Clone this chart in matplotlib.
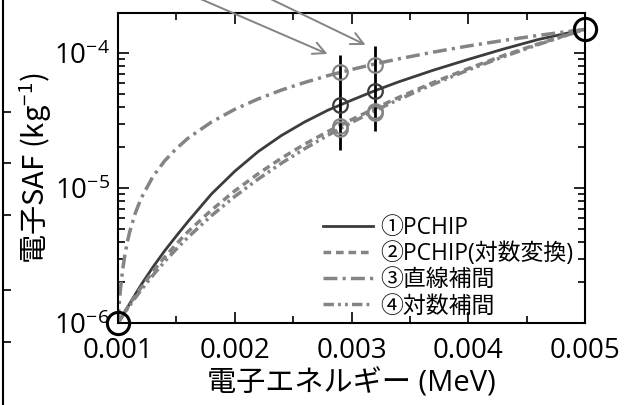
import matplotlib
matplotlib.use('Agg')
import matplotlib.pyplot as plt

plt.rcParams['font.family'] = ['Open Sans', 'Noto Sans CJK JP', 'DejaVu Sans']
plt.rcParams['mathtext.fontset'] = 'custom'
plt.rcParams['mathtext.rm'] = 'Noto Sans CJK JP'
plt.rcParams['mathtext.it'] = 'Noto Sans CJK JP'
plt.rcParams['axes.unicode_minus'] = False

# energies (MeV) and SAF values
energy = [0.001, 0.00101, 0.00102, 0.00104, 0.00106, 0.00108, 0.0011, 0.00115, 0.0012,
          0.0013, 0.0014, 0.0015, 0.0016, 0.0018, 0.002, 0.0022, 0.0024, 0.0026, 0.0028,
          0.003, 0.0032, 0.0034, 0.0037, 0.004, 0.0043, 0.0046, 0.005]
saf_pchip = [1.0e-6, 1.033e-6, 1.068e-6, 1.14e-6, 1.216e-6, 1.30e-6, 1.39e-6, 1.64e-6,
             1.93e-6, 2.6e-6, 3.43e-6, 4.42e-6, 5.65e-6, 9.02e-6, 1.33e-5, 1.86e-5,
             2.45e-5, 3.09e-5, 3.78e-5, 4.47e-5, 5.26e-5, 6.1e-5, 7.46e-5, 8.97e-5,
             1.07e-4, 1.26e-4, 1.5e-4]
saf_pchip_log = [1.0e-6, 1.03e-6, 1.069e-6, 1.141e-6, 1.217e-6, 1.296e-6, 1.379e-6,
                 1.599e-6, 1.843e-6, 2.41e-6, 3.079e-6, 3.852e-6, 4.752e-6, 6.856e-6,
                 9.518e-6, 1.275e-5, 1.664e-5, 2.115e-5, 2.627e-5, 3.211e-5, 3.888e-5,
                 4.672e-5, 6.05e-5, 7.674e-5, 9.566e-5, 1.169e-4, 1.5e-4]
saf_linear = [1.0e-6, 1.37e-6, 1.75e-6, 2.49e-6, 3.24e-6, 3.98e-6, 4.73e-6, 6.59e-6,
              8.45e-6, 1.22e-5, 1.59e-5, 1.96e-5, 2.34e-5, 3.08e-5, 3.83e-5, 4.57e-5,
              5.32e-5, 6.06e-5, 6.81e-5, 7.55e-5, 8.3e-5, 9.04e-5, 1.016e-4, 1.128e-4,
              1.239e-4, 1.351e-4, 1.5e-4]
saf_loglog = [1.0e-6, 1.032e-6, 1.064e-6, 1.13e-6, 1.199e-6, 1.271e-6, 1.345e-6, 1.545e-6,
              1.764e-6, 2.263e-6, 2.851e-6, 3.534e-6, 4.32e-6, 6.233e-6, 8.653e-6,
              1.164e-5, 1.527e-5, 1.958e-5, 2.467e-5, 3.058e-5, 3.738e-5, 4.514e-5,
              5.874e-5, 7.487e-5, 9.378e-5, 1.157e-4, 1.5e-4]

# tabulated end points
known_e = [0.001, 0.005]
known_saf = [1.0e-6, 1.5e-4]

# evaluation energies, interpolated values and their ranges
eval_e = [0.0029, 0.0032]
eval_pchip = [4.15e-5, 5.26e-5]
eval_pchip_log = [2.88e-5, 3.7e-5]
eval_linear = [7.27e-5, 8.15e-5]
eval_loglog = [2.74e-5, 3.6e-5]
range_lo = [1.91e-5, 2.66e-5]
range_hi = [9.67e-5, 1.13e-4]

labels = ['①PCHIP', '②PCHIP(対数変換)', '③直線補間', '④対数補間']

dark = '#3c3c3c'
grey = '#848484'

fig = plt.figure(figsize=(6.31, 4.05), dpi=100)
ax = fig.add_axes([118 / 631, 82 / 405, 467 / 631, 310 / 405])

ax.plot(energy, saf_pchip, color=dark, lw=2.0, label=labels[0])
ax.plot(energy, saf_pchip_log, color=grey, lw=2.5, dashes=(2.2, 1.4), label=labels[1])
ax.plot(energy, saf_linear, color=grey, lw=2.5, dashes=(4, 1.5, 0.9, 1.5), label=labels[2])
ax.plot(energy, saf_loglog, color=grey, lw=2.5, dashes=(3, 1.2, 0.8, 1.2, 0.8, 1.2),
        label=labels[3])

ax.vlines(eval_e, range_lo, range_hi, color='black', lw=2)
ax.plot(eval_e, eval_pchip_log, 'o', ms=10.5, mfc='none', mec=grey, mew=1.6)
ax.plot(eval_e, eval_loglog, 'o', ms=10.5, mfc='none', mec=grey, mew=1.6)
ax.plot(eval_e, eval_linear, 'o', ms=10.5, mfc='none', mec=grey, mew=1.6)
ax.plot(eval_e, eval_pchip, 'o', ms=10.5, mfc='none', mec=dark, mew=1.6)
ax.plot(known_e, known_saf, 'o', ms=16, mfc='none', mec='black', mew=2.2, clip_on=False,
        zorder=5)

# arrows coming in from the neighbouring panel
for tip_e, tip_y, tail_e in [(0.002794, 9.85e-5, 0.00114), (0.00312, 1.15e-4, 0.00180)]:
    ax.annotate('', xy=(tip_e, tip_y), xytext=(tail_e, 4.1e-4), annotation_clip=False,
                arrowprops=dict(arrowstyle='->', color=grey, lw=1.4, mutation_scale=22,
                                shrinkA=0, shrinkB=0))

ax.set_yscale('log')
ax.set_xlim(0.001, 0.005)
ax.set_ylim(1e-6, 1.98e-4)
ax.set_xticks([0.001, 0.002, 0.003, 0.004, 0.005])
ax.set_xticklabels(['0.001', '0.002', '0.003', '0.004', '0.005'])
ax.set_xticks([0.0015, 0.0025, 0.0035, 0.0045], minor=True)
ax.tick_params(which='both', direction='in', top=True, right=True, labelsize=20, width=1.2)
ax.tick_params(which='major', length=8)
ax.tick_params(which='minor', length=5)
ax.tick_params(axis='x', pad=10)
ax.tick_params(axis='y', pad=6)
for s in ax.spines.values():
    s.set_linewidth(1.5)

ax.set_xlabel('電子エネルギー (MeV)', fontsize=21, labelpad=3)
ax.set_ylabel('電子SAF (kg$^{-1}$)', fontsize=21, labelpad=0, family='Noto Sans CJK JP')

ax.legend(loc='lower right', frameon=False, fontsize=16.5, handlelength=2.2,
          handletextpad=0.3, labelspacing=0.1, borderaxespad=0.0,
          bbox_to_anchor=(0.995, -0.015))

# right spine of the neighbouring panel, cut at the left edge
edge = fig.add_axes([-0.2, 0.0, 0.2 + 3 / 631, 1.0])
edge.set_xticks([])
for name in ['left', 'top', 'bottom']:
    edge.spines[name].set_visible(False)
edge.spines['right'].set_linewidth(1.5)
edge.yaxis.tick_right()
edge.set_ylim(0, 405)
edge.set_yticks([405 - 112, 405 - 163, 405 - 215, 405 - 290, 405 - 342])
edge.tick_params(axis='y', direction='out', length=6, width=1.2, labelright=False)
edge.patch.set_visible(False)

fig.savefig('out.png', dpi=100)
